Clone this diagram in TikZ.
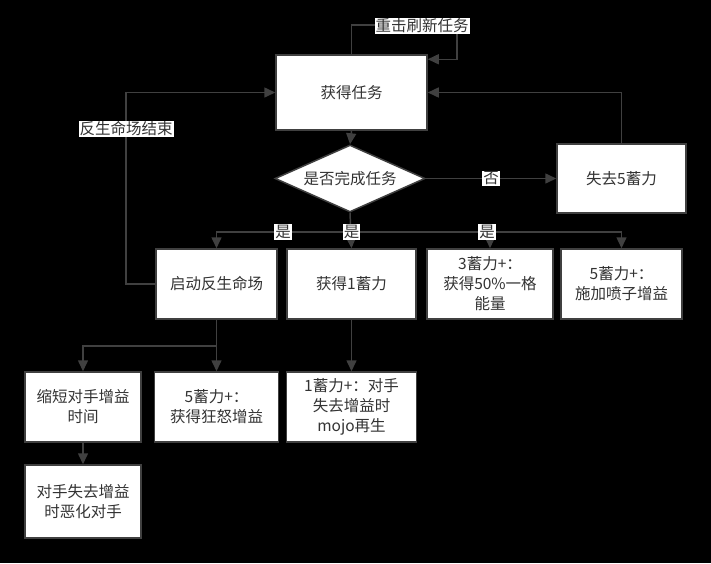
\documentclass[tikz,border=0pt]{standalone}
\usepackage{fontspec}
\setmainfont{Noto Sans CJK SC}
\usetikzlibrary{shapes.geometric,arrows.meta}

\definecolor{lijn}{HTML}{404040}
\definecolor{tekst}{HTML}{333333}

\tikzset{
  blok/.style 2 args={draw=lijn, line width=1.5pt, fill=white, text=tekst,
    align=center, inner sep=0pt, minimum width=#1pt, minimum height=#2pt,
    font=\fontsize{15.5pt}{20pt}\selectfont},
  keuze/.style={diamond, aspect=2.2, draw=lijn, line width=1.5pt, fill=white,
    text=tekst, inner sep=0pt, minimum width=150pt, minimum height=67pt,
    font=\fontsize{15.5pt}{20pt}\selectfont},
  etiket/.style={fill=white, text=tekst, inner sep=1pt,
    font=\fontsize{15.5pt}{20pt}\selectfont},
  pijl/.style={->, draw=lijn, line width=1.5pt},
}

\begin{document}
\begin{tikzpicture}[x=1pt, y=-1pt, >={Triangle[length=11pt,width=10pt]}]

  % Achtergrond
  \fill[black] (0,0) rectangle (711,563);

  % Bovenste deel
  \node[blok={151}{75}] (taak) at (351.5,92.5) {获得任务};
  \node[keuze] (vraag) at (350,178.5) {是否完成任务};
  \node[blok={129}{69}] (verlies) at (621.5,178.5) {失去5蓄力};

  % Middelste rij
  \node[blok={121}{70}] (start) at (216.5,284) {启动反生命场};
  \node[blok={129}{70}] (een) at (351.5,284) {获得1蓄力};
  \node[blok={126}{70}] (drie) at (490,284) {3蓄力+：\\获得50\%一格\\能量};
  \node[blok={121}{70}] (vijf) at (621.5,284) {5蓄力+：\\施加喷子增益};

  % Onderste rijen
  \node[blok={116}{70}] (kort) at (83,407) {缩短对手增益\\时间};
  \node[blok={124}{70}] (woede) at (216.5,407) {5蓄力+：\\获得狂怒增益};
  \node[blok={130}{70}] (mojo) at (351.5,407) {1蓄力+：对手\\失去增益时\\mojo再生};
  \node[blok={116}{73}] (slecht) at (83,501.5) {对手失去增益\\时恶化对手};

  % Hulppunten
  \coordinate (lus) at (457,25);
  \coordinate (links) at (126,284);
  \coordinate (splits) at (351.5,232);
  \coordinate (tak) at (216.5,346);

  % Opnieuw taak
  \draw[pijl] (taak.north) |- (lus) |- ([yshift=-5pt]taak.north east);
  \node[etiket] (herlaad) at (422,26) {重击刷新任务};

  % Vraag en nee-tak
  \draw[pijl] (taak.south) -- (vraag.north);
  \draw[pijl] (vraag.east) -- (verlies.west)
    node[etiket, midway] (nee) {否};
  \draw[pijl] (verlies.north) |- (taak.east);

  % Ja-takken
  \draw[pijl] (vraag.south) -- (een.north);
  \draw[pijl] (splits) -| (start.north);
  \draw[pijl] (splits) -| (drie.north);
  \draw[pijl] (splits) -| (vijf.north);
  \node[etiket] (ja1) at (283,232) {是};
  \node[etiket] (ja2) at (351.5,232) {是};
  \node[etiket] (ja3) at (487,232) {是};

  % Terug naar taak
  \draw[pijl] (start.west) -- (links) |- (taak.west);
  \node[etiket] (einde) at (126,129) {反生命场结束};

  % Vervolg
  \draw[pijl] (start.south) -- (tak) -| (kort.north);
  \draw[pijl] (tak) -- (woede.north);
  \draw[pijl] (kort.south) -- (slecht.north);
  \draw[pijl] (een.south) -- (mojo.north);

\end{tikzpicture}
\end{document}
